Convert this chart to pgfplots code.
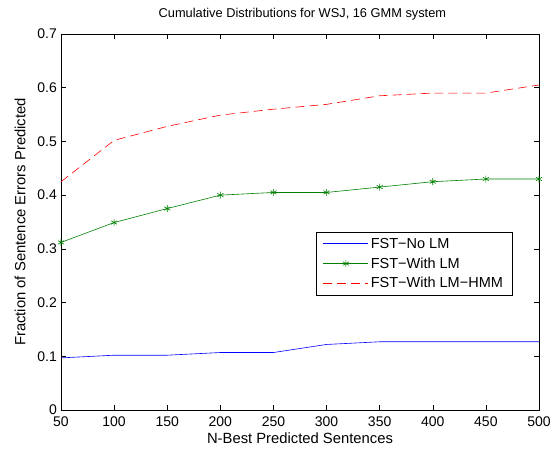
\documentclass[border=0pt]{standalone}
\usepackage{fontspec}
\setmainfont{Liberation Sans}
\usepackage{pgfplots}
\pgfplotsset{compat=1.18}
\definecolor{mblue}{RGB}{0,0,255}
\begin{document}
\begin{tikzpicture}[x=1pt,y=1pt]
\path[use as bounding box] (-61,-39) rectangle (497,410);
\begin{axis}[
  at={(0,0)}, anchor=south west,
  scale only axis, width=478pt, height=376pt,
  xmin=50, xmax=500, ymin=0, ymax=0.7,
  xtick={50,100,...,500}, ytick={0,0.1,...,0.7},
  yticklabel style={/pgf/number format/fixed,/pgf/number format/precision=1, xshift=-2pt},
  xticklabel style={yshift=-5pt},
  /pgf/number format/assume math mode=true,
  tick align=inside, tick pos=both, major tick length=5pt,
  tick style={black, line width=0.5pt},
  axis line style={line width=0.6pt},
  ticklabel style={font=\fontsize{14}{16}\selectfont, inner sep=2pt},
  xlabel={N-Best Predicted Sentences},
  ylabel={Fraction of Sentence Errors Predicted},
  label style={font=\fontsize{14.8}{17}\selectfont},
  xlabel style={at={(axis description cs:0.5,-0.0745)}, anchor=center},
  ylabel style={at={(axis description cs:-0.0858,0.5)}, anchor=center, rotate=0},
  title={Cumulative Distributions for WSJ, 16 GMM system},
  title style={font=\fontsize{12.8}{15}\selectfont, at={(axis description cs:0.505,1.038)}, anchor=center},
  legend style={at={(0.944,0.473)}, anchor=north east, line width=0.6pt,
    font=\fontsize{14.5}{17}\selectfont, row sep=3.5pt, inner xsep=7pt, inner ysep=4pt},
  legend cell align=left,
  legend image code/.code={\draw[#1] (0pt,0pt) -- (45pt,0pt); \draw[#1, solid] plot coordinates {(22.5pt,0pt)};},
]
\addplot[mblue, line width=0.6pt, legend image code/.code={\draw[mblue, line width=0.8pt] (0pt,0.5pt) -- (45pt,0.5pt);}] coordinates {
(50,0.097) (100,0.102) (150,0.102) (200,0.107) (250,0.107) (300,0.122) (350,0.127) (400,0.127) (450,0.127) (500,0.127)};
\addlegendentry{FST−No LM}
\addplot[green!50!black, line width=0.6pt, mark=asterisk, mark size=3.5pt] coordinates {
(50,0.312) (100,0.349) (150,0.375) (200,0.400) (250,0.405) (300,0.405) (350,0.415) (400,0.425) (450,0.430) (500,0.430)};
\addlegendentry{FST−With LM}
\addplot[red, line width=0.6pt, dash pattern=on 9pt off 5pt] coordinates {
(50,0.425) (100,0.502) (150,0.528) (200,0.549) (250,0.560) (300,0.569) (350,0.585) (400,0.590) (450,0.590) (500,0.605)};
\addlegendentry{FST−With LM−HMM}
\end{axis}
\end{tikzpicture}
\end{document}
